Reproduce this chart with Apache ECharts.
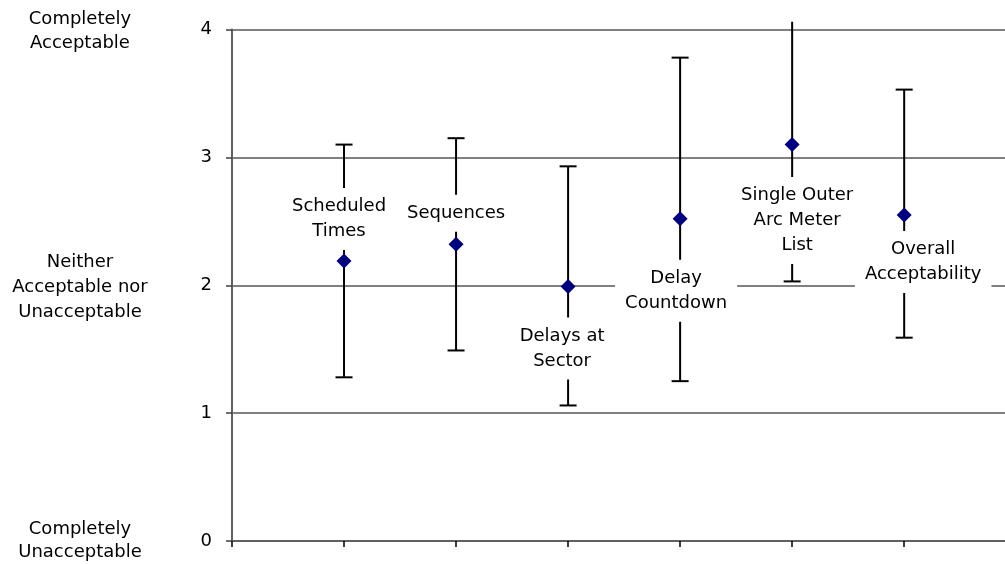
<!DOCTYPE html>
<html>
<head>
<meta charset="utf-8">
<script src="https://cdn.jsdelivr.net/npm/echarts@6/dist/echarts.min.js"></script>
<style>
html,body{margin:0;padding:0;background:#fff;}
#chart{width:1005px;height:564px;}
</style>
</head>
<body>
<div id="chart"></div>
<script>
// ---- data ----
const categories = ['Scheduled\nTimes', 'Sequences', 'Delays at\nSector', 'Delay\nCountdown', 'Single Outer\nArc Meter\nList', 'Overall\nAcceptability'];
const means = [2.19, 2.32, 1.99, 2.52, 3.10, 2.55];
const upper = [3.10, 3.15, 2.93, 3.78, 4.06, 3.53];
const lower = [1.28, 1.49, 1.06, 1.25, 2.03, 1.59];
const yTickValues = [0, 1, 2, 3, 4];
const scaleLabelValues = [0, 2, 4];
const scaleLabelTexts = ['Completely\nUnacceptable', 'Neither\nAcceptable nor\nUnacceptable', 'Completely\nAcceptable'];

// ---- style (label placement relative to each point, in px) ----
const labelOffsets = [[-5, -42], [0, -31], [-6, 62], [-4, 72], [5, 76], [19, 47]];

const Y_MIN = yTickValues[0], Y_MAX = yTickValues[yTickValues.length - 1];
const FONT = 'DejaVu Sans';

const chart = echarts.init(document.getElementById('chart'));

const pointData = means.map((m, i) => [i + 1, m]);
const errData = means.map((m, i) => [i + 1, lower[i], upper[i]]);
const labelData = means.map((m, i) => [i + 1, m, i]);

chart.setOption({
  animation: false,
  backgroundColor: '#fff',
  grid: { left: 232, right: 0, top: 29.5, bottom: 21.3, containLabel: false },
  xAxis: {
    type: 'value', min: 0, max: 6.9, interval: 1,
    axisLabel: { show: false },
    splitLine: { show: false },
    axisLine: { show: true, lineStyle: { color: '#606060', width: 2 } },
    axisTick: { show: true, customValues: [0, 1, 2, 3, 4, 5, 6], length: 6, lineStyle: { color: '#000', width: 1.5 } }
  },
  yAxis: [{
    type: 'value', min: Y_MIN, max: Y_MAX, interval: 1,
    axisLine: { show: true, lineStyle: { color: '#606060', width: 2 } },
    axisTick: { show: true, length: 6, lineStyle: { color: '#404040', width: 1.5 } },
    splitLine: { show: true, lineStyle: { color: '#808080', width: 2 } },
    axisLabel: { fontFamily: FONT, fontSize: 18, color: '#000', margin: 20 }
  }, {
    type: 'value', min: Y_MIN, max: Y_MAX, interval: 1, position: 'left',
    axisLine: { show: false }, axisTick: { show: false }, splitLine: { show: false },
    axisLabel: {
      fontFamily: FONT, fontSize: 18, color: '#000', margin: 152, align: 'center', lineHeight: 24,
      formatter: function (v) {
        const k = scaleLabelValues.indexOf(v);
        if (k < 0) return '';
        return scaleLabelTexts[k].split('\n').map(s => '{' + (v === 2 ? 'mid' : (v === Y_MAX ? 'top' : 'bot')) + '|' + s + '}').join('\n');
      },
      rich: {
        top: { fontFamily: FONT, fontSize: 18, color: '#000', lineHeight: 24, padding: [4, 0, 0, 0] },
        mid: { fontFamily: FONT, fontSize: 18, color: '#000', lineHeight: 25, padding: [5, 0, 0, 0] },
        bot: { fontFamily: FONT, fontSize: 18, color: '#000', lineHeight: 23 }
      }
    }
  }],
  series: [{
    type: 'custom',
    z: 2,
    clip: false,
    silent: true,
    data: errData,
    renderItem: function (params, api) {
      const x = api.value(0), lo = api.value(1), hi = api.value(2);
      const pTop = api.coord([x, hi]);
      const pBot = api.coord([x, lo]);
      const hw = 8.5;
      const st = { stroke: '#000', lineWidth: 2 };
      const children = [
        { type: 'line', shape: { x1: pTop[0], y1: pTop[1], x2: pBot[0], y2: pBot[1] }, style: st }
      ];
      if (hi <= Y_MAX) children.push({ type: 'line', shape: { x1: pTop[0] - hw, y1: pTop[1], x2: pTop[0] + hw, y2: pTop[1] }, style: st });
      if (lo >= Y_MIN) children.push({ type: 'line', shape: { x1: pBot[0] - hw, y1: pBot[1], x2: pBot[0] + hw, y2: pBot[1] }, style: st });
      return { type: 'group', children: children };
    }
  }, {
    type: 'custom',
    z: 4,
    clip: false,
    silent: true,
    data: labelData,
    renderItem: function (params, api) {
      const i = api.value(2);
      const p = api.coord([api.value(0), api.value(1)]);
      const off = labelOffsets[i];
      return {
        type: 'text',
        x: p[0] + off[0],
        y: p[1] + off[1],
        style: {
          text: categories[i],
          fill: '#000',
          font: '18px "' + FONT + '"',
          lineHeight: 25,
          align: 'center',
          verticalAlign: 'middle',
          backgroundColor: '#fff',
          padding: [6, 10]
        }
      };
    }
  }, {
    type: 'scatter',
    z: 5,
    symbol: 'diamond',
    symbolSize: 15,
    itemStyle: { color: '#000080', opacity: 1 },
    data: pointData
  }]
});
</script>
</body>
</html>
